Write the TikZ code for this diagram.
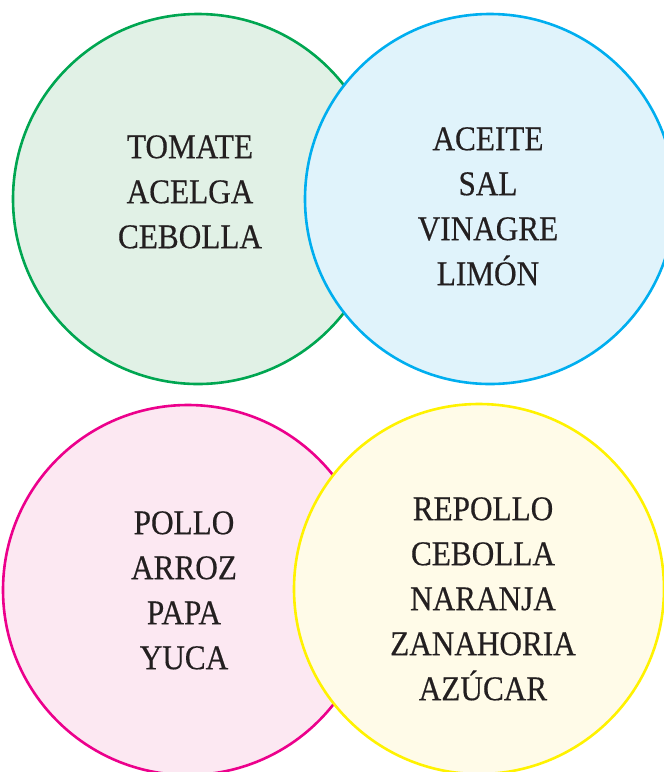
\documentclass[tikz,border=0pt]{standalone}
\usepackage{fontspec}
\setmainfont{Liberation Serif}[FakeStretch=0.9,FakeBold=0.4]
\newlength{\ringlinewidth}
\setlength{\ringlinewidth}{2.6pt}
\definecolor{leafline}{HTML}{00A651}
\definecolor{leaffill}{HTML}{E1F1E6}
\definecolor{skyline}{HTML}{00AEEF}
\definecolor{skyfill}{HTML}{E0F3FB}
\definecolor{rosaline}{HTML}{EC008C}
\definecolor{rosafill}{HTML}{FCE8F2}
\definecolor{solline}{HTML}{FFF200}
\definecolor{solfill}{HTML}{FFFBE8}
\definecolor{inkgray}{HTML}{231F20}

\begin{document}
\begin{tikzpicture}[x=1pt,y=-1pt,
        ring/.style={
            circle,draw,
            line width=\ringlinewidth,
            minimum size=370pt,
            inner sep=0pt,outer sep=0pt,
            },
        words/.style={
            anchor=north,align=center,
            inner sep=0pt,text=inkgray,
            font=\fontsize{34.7}{45}\selectfont,
            },
        ]
    \useasboundingbox (0,0) rectangle (664,772);
    \clip (0,0) rectangle (664,772);
    % top pair
    \node[ring,draw=leafline,fill=leaffill] (verdes) at (198,199) {};
    \node[ring,draw=skyline,fill=skyfill] (aderezos) at (490,199) {};
    \node[words] (listaverdes) at (190,135) {TOMATE\\ACELGA\\CEBOLLA};
    \node[words] (listaaderezos) at (488,127) {ACEITE\\SAL\\VINAGRE\\LIMÓN};
    % bottom pair
    \node[ring,draw=rosaline,fill=rosafill] (fuertes) at (188,590) {};
    \node[ring,draw=solline,fill=solfill] (dulces) at (479,589) {};
    \node[words] (listafuertes) at (184,511) {POLLO\\ARROZ\\PAPA\\YUCA};
    \node[words] (listadulces) at (483,497) {REPOLLO\\CEBOLLA\\NARANJA\\ZANAHORIA\\AZÚCAR};
\end{tikzpicture}
\end{document}
